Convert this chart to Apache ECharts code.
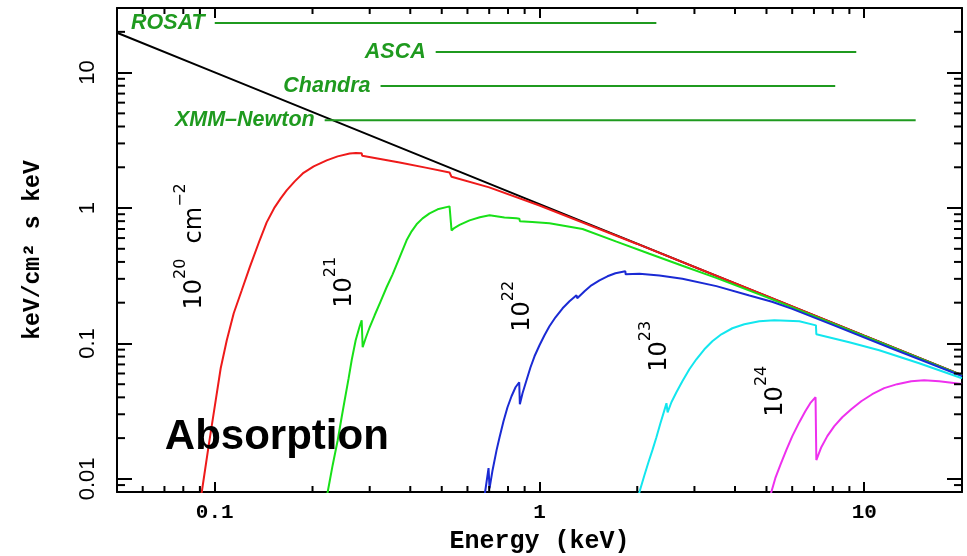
<!DOCTYPE html>
<html><head><meta charset="utf-8">
<script src="https://cdn.jsdelivr.net/npm/echarts@6/dist/echarts.min.js"></script>
<style>html,body{margin:0;padding:0;background:#fff}#c{width:967px;height:556px}</style>
</head><body><div id="c"></div>
<script>
// ---- axes ----
const X_MIN = 0.05, X_MAX = 20, Y_MIN = 0.008, Y_MAX = 30;
const xTickLabels = ['0.1', '1', '10'];          // decades 10^-1 .. 10^1
const yTickLabels = ['0.01', '0.1', '1', '10'];  // decades 10^-2 .. 10^1
const minorMult = [2, 3, 4, 5, 6, 7, 8, 9];
const xDecades = [0.01, 0.1, 1, 10];
const yDecades = [0.001, 0.01, 0.1, 1, 10];

// ---- data [energy keV, keV/cm2 s keV] ----
const powerLaw = [[0.05, 19.7], [0.1, 10.05], [1, 1.07], [10, 0.114], [20, 0.0583]];
const nh20 = [[0.0900, 0.0070], [0.0912, 0.0080], [0.0958, 0.0177], [0.1007, 0.0381], [0.1043, 0.0656], [0.1089, 0.1057], [0.1144, 0.1671], [0.1211, 0.247], [0.1281, 0.365], [0.1375, 0.578], [0.1445, 0.784], [0.1529, 1.012], [0.1596, 1.179], [0.1665, 1.351], [0.1763, 1.574], [0.1866, 1.80], [0.2017, 2.031], [0.2211, 2.25], [0.2390, 2.407], [0.2603, 2.53], [0.272, 2.55], [0.2834, 2.54], [0.2845, 2.43], [0.3709, 2.17], [0.45, 1.98], [0.5285, 1.83], [0.536, 1.70], [0.70, 1.42], [1.0, 1.045], [2.0, 0.543], [5, 0.224], [10, 0.114], [20, 0.0583]];
const nh21 = [[0.2215, 0.0075], [0.2227, 0.0080], [0.2307, 0.01262], [0.2391, 0.0193], [0.2459, 0.02853], [0.2512, 0.0381], [0.2584, 0.0554], [0.2640, 0.0752], [0.2716, 0.1056], [0.2794, 0.1339], [0.2834, 0.1483], [0.2854, 0.0937], [0.2915, 0.1092], [0.2999, 0.1317], [0.3107, 0.1615], [0.3242, 0.2048], [0.3382, 0.2600], [0.3529, 0.3241], [0.3709, 0.4327], [0.3897, 0.5775], [0.4038, 0.673], [0.4183, 0.758], [0.4365, 0.839], [0.4587, 0.914], [0.4857, 0.978], [0.5285, 1.029], [0.532, 1.035], [0.536, 0.684], [0.5477, 0.715], [0.5674, 0.750], [0.609, 0.811], [0.655, 0.855], [0.7017, 0.883], [0.707, 0.858], [0.78, 0.852], [0.849, 0.839], [0.867, 0.833], [0.870, 0.80], [0.95, 0.79], [1.073, 0.771], [1.357, 0.70], [1.726, 0.565], [2.18, 0.46], [2.754, 0.375], [3.5, 0.305], [5, 0.22], [10, 0.113], [20, 0.058]];
const nh22 = [[0.6773, 0.0075], [0.680, 0.0080], [0.6968, 0.0120], [0.7017, 0.0085], [0.7169, 0.01159], [0.7376, 0.0163], [0.7534, 0.0203], [0.7747, 0.02666], [0.797, 0.0338], [0.820, 0.04076], [0.8437, 0.0475], [0.866, 0.0517], [0.870, 0.0356], [0.8866, 0.0429], [0.912, 0.0535], [0.9383, 0.0667], [0.9652, 0.0804], [1.0, 0.0970], [1.036, 0.1149], [1.073, 0.1339], [1.120, 0.1561], [1.178, 0.1819], [1.237, 0.2048], [1.30, 0.2268], [1.307, 0.2156], [1.376, 0.2428], [1.445, 0.2689], [1.530, 0.2927], [1.619, 0.3133], [1.713, 0.3297], [1.838, 0.341], [1.842, 0.3241], [2.031, 0.327], [2.34, 0.318], [2.754, 0.300], [3.505, 0.265], [4.43, 0.226], [5.2, 0.203], [6, 0.180], [8, 0.137], [12, 0.093], [20, 0.0575]];
const nh23 = [[2.02, 0.0075], [2.031, 0.008], [2.104, 0.01065], [2.165, 0.01328], [2.227, 0.0163], [2.291, 0.0203], [2.357, 0.02577], [2.425, 0.0322], [2.46, 0.0362], [2.48, 0.031], [2.548, 0.0368], [2.640, 0.0436], [2.754, 0.0526], [2.894, 0.0645], [3.041, 0.0764], [3.219, 0.0906], [3.406, 0.1038], [3.631, 0.1169], [3.925, 0.1295], [4.273, 0.1386], [4.753, 0.1458], [5.285, 0.1483], [6.31, 0.1458], [7.1, 0.136], [7.12, 0.1169], [8.99, 0.102], [11.12, 0.0891], [14.76, 0.0715], [20, 0.0554]];
const nh24 = [[5.15, 0.0075], [5.175, 0.008], [5.323, 0.01012], [5.514, 0.01262], [5.754, 0.0163], [6.005, 0.02068], [6.31, 0.02623], [6.584, 0.0316], [6.82, 0.0362], [7.08, 0.0401], [7.12, 0.01376], [7.375, 0.01714], [7.696, 0.02068], [8.087, 0.02453], [8.557, 0.02853], [9.12, 0.03268], [9.79, 0.03745], [10.58, 0.04218], [11.52, 0.04678], [12.63, 0.05006], [13.95, 0.0526], [15.29, 0.0535], [17.01, 0.0526], [20, 0.0501]];

// ---- instrument bands ----
const instruments = ['ROSAT', 'ASCA', 'Chandra', 'XMM\u2013Newton'];
const bandLow = [0.1, 0.479, 0.324, 0.218];
const bandHigh = [2.29, 9.45, 8.14, 14.4];
const bandLevel = [23.2, 14.17, 7.95, 4.44];

// ---- column density labels ----
const nhExp = ['20', '21', '22', '23', '24'];
const nhLabelPos = [[0.0838, 0.521], [0.242, 0.283], [0.856, 0.188], [2.27, 0.0953], [5.17, 0.0444]];
const titleText = 'Absorption';
const titlePos = [0.0702, 0.0203];

const curveColors = ['#000000', '#ee1a1a', '#18e018', '#1a2ad4', '#12e6ee', '#ee30ee'];
const curves = [powerLaw, nh20, nh21, nh22, nh23, nh24];
const GREEN = '#1f9a1f';

const xMinor = [];
xDecades.forEach(d => minorMult.forEach(m => { const v = +(d * m).toPrecision(3); if (v > X_MIN && v < X_MAX) xMinor.push([v, Y_MIN]); }));
const yMinor = [];
yDecades.forEach(d => minorMult.forEach(m => { const v = +(d * m).toPrecision(3); if (v > Y_MIN && v < Y_MAX) yMinor.push([X_MIN, v]); }));

function decadeLabel(labels, offset) {
  return v => {
    const l = Math.log10(v), r = Math.round(l);
    if (Math.abs(l - r) > 1e-6) return '';
    return labels[r + offset] || '';
  };
}

const chart = echarts.init(document.getElementById('c'), null, { renderer: 'canvas' });

const axisLine = { show: true, onZero: false, lineStyle: { color: '#000', width: 2 } };
const series = [];
curves.forEach((c, i) => series.push({
  type: 'line', data: c, showSymbol: false, symbol: 'none', smooth: false,
  lineStyle: { color: curveColors[i], width: 2 }, silent: true, z: 3 + i, clip: true
}));
instruments.forEach((name, i) => series.push({
  type: 'line', silent: true, z: 3, symbol: 'circle', symbolSize: 0.01, showSymbol: true,
  lineStyle: { color: GREEN, width: 2 }, itemStyle: { color: GREEN, opacity: 1 },
  data: [
    { value: [bandLow[i], bandLevel[i]], label: { show: true, position: 'left', distance: 10, formatter: name,
      color: GREEN, opacity: 1, fontFamily: 'Liberation Sans', fontWeight: 'bold', fontStyle: 'italic', fontSize: 21.5 } },
    { value: [bandHigh[i], bandLevel[i]] }
  ]
}));
const rich = {
  b: { fontFamily: 'DejaVu Sans', fontSize: 24, color: '#000', lineHeight: 34, verticalAlign: 'bottom' },
  s: { fontFamily: 'DejaVu Sans', fontSize: 16, color: '#000', lineHeight: 34, verticalAlign: 'top' }
};
series.push({
  type: 'scatter', silent: true, symbolSize: 0, z: 10, itemStyle: { opacity: 1, color: '#000' },
  data: nhLabelPos.map((p, i) => ({
    value: p,
    label: { show: true, position: 'inside', rotate: 90, align: 'center', verticalAlign: 'middle', rich, opacity: 1,
      formatter: i === 0 ? '{b|10}{s|' + nhExp[i] + '}{b|  cm}{s|\u22122}' : '{b|10}{s|' + nhExp[i] + '}' }
  }))
});
series.push({
  type: 'scatter', silent: true, symbolSize: 0, z: 10, itemStyle: { opacity: 1, color: '#000' },
  data: [{ value: titlePos, label: { show: true, position: 'inside', align: 'left', verticalAlign: 'middle', opacity: 1,
    formatter: titleText, fontFamily: 'Liberation Sans', fontWeight: 'bold', fontSize: 42, color: '#000' } }]
});
series.push({
  type: 'custom', silent: true, z: 20, data: xMinor, clip: false,
  renderItem: (params, api) => {
    const v = api.value(0);
    const b = api.coord([v, Y_MIN]), t = api.coord([v, Y_MAX]);
    return { type: 'group', children: [
      { type: 'line', shape: { x1: b[0], y1: b[1], x2: b[0], y2: b[1] - 6 }, style: { stroke: '#000', lineWidth: 2 } },
      { type: 'line', shape: { x1: t[0], y1: t[1], x2: t[0], y2: t[1] + 6 }, style: { stroke: '#000', lineWidth: 2 } }
    ] };
  }
});
series.push({
  type: 'custom', silent: true, z: 20, data: yMinor, clip: false,
  renderItem: (params, api) => {
    const v = api.value(1);
    const l = api.coord([X_MIN, v]), r = api.coord([X_MAX, v]);
    return { type: 'group', children: [
      { type: 'line', shape: { x1: l[0], y1: l[1], x2: l[0] + 8, y2: l[1] }, style: { stroke: '#000', lineWidth: 2 } },
      { type: 'line', shape: { x1: r[0], y1: r[1], x2: r[0] - 8, y2: r[1] }, style: { stroke: '#000', lineWidth: 2 } }
    ] };
  }
});

chart.setOption({
  animation: false,
  backgroundColor: '#fff',
  grid: { left: 117, right: 5, top: 8, bottom: 64, containLabel: false, outerBoundsMode: 'none' },
  xAxis: [
    { type: 'log', logBase: 10, min: X_MIN, max: X_MAX, position: 'bottom',
      axisLine, splitLine: { show: false },
      axisTick: { show: true, inside: true, length: 10, lineStyle: { color: '#000', width: 2 } },
      axisLabel: { show: true, formatter: decadeLabel(xTickLabels, 1), showMinLabel: false, showMaxLabel: false,
        color: '#000', fontFamily: 'Liberation Mono', fontWeight: 'bold', fontSize: 21, margin: 10 },
      name: 'Energy (keV)', nameLocation: 'middle', nameGap: 37,
      nameTextStyle: { color: '#000', fontFamily: 'Liberation Mono', fontWeight: 'bold', fontSize: 25 } },
    { type: 'log', logBase: 10, min: X_MIN, max: X_MAX, position: 'top',
      axisLine, splitLine: { show: false },
      axisTick: { show: true, inside: true, length: 10, lineStyle: { color: '#000', width: 2 } },
      axisLabel: { show: false } }
  ],
  yAxis: [
    { type: 'log', logBase: 10, min: Y_MIN, max: Y_MAX, position: 'left',
      axisLine, splitLine: { show: false },
      axisTick: { show: true, inside: true, length: 15, lineStyle: { color: '#000', width: 2 } },
      axisLabel: { show: true, rotate: 90, formatter: decadeLabel(yTickLabels, 2), showMinLabel: false, showMaxLabel: false,
        color: '#000', fontFamily: 'Liberation Sans', fontSize: 22, margin: 18 },
      name: 'keV/cm\u00b2 s keV', nameLocation: 'middle', nameGap: 72, nameRotate: 90,
      nameTextStyle: { color: '#000', fontFamily: 'Liberation Mono', fontWeight: 'bold', fontSize: 23 } },
    { type: 'log', logBase: 10, min: Y_MIN, max: Y_MAX, position: 'right',
      axisLine, splitLine: { show: false },
      axisTick: { show: true, inside: true, length: 15, lineStyle: { color: '#000', width: 2 } },
      axisLabel: { show: false } }
  ],
  series
});
</script>
</body></html>
